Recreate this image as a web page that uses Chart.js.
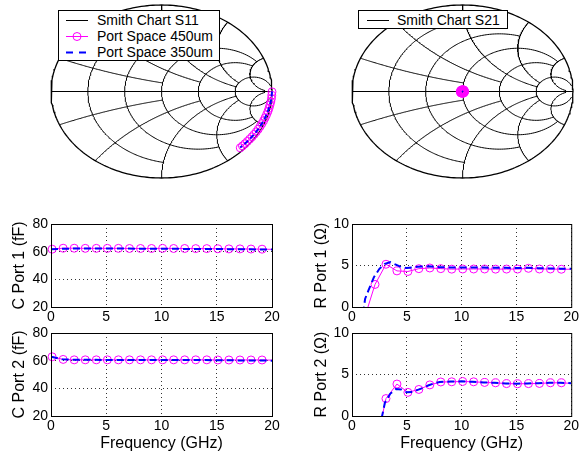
<!DOCTYPE html>
<html>
<head>
<meta charset="utf-8">
<script src="https://cdn.jsdelivr.net/npm/chart.js@4.4.0/dist/chart.umd.min.js"></script>
<style>
body { margin: 0; background: #fff; font-family: "Liberation Sans", Arial, sans-serif; }
#wrap { position: relative; width: 581px; height: 456px; overflow: hidden; }
canvas { position: absolute; }
.lg { position: absolute; background: #fff; border: 1px solid #000; font-size: 14px; color: #000; z-index: 5; }
.lg .row { position: absolute; left: 0; height: 16px; line-height: 16px; white-space: nowrap; }
.lg svg { position: absolute; top: 0; }
.lg span { position: absolute; top: 0; }
</style>
</head>
<body>
<div id="wrap">
  <canvas id="s11" width="245" height="185" style="left:40px;top:0px"></canvas>
  <canvas id="s21" width="240" height="185" style="left:341px;top:0px"></canvas>
  <canvas id="c1" width="290" height="115" style="left:0px;top:210px"></canvas>
  <canvas id="r1" width="291" height="115" style="left:290px;top:210px"></canvas>
  <canvas id="c2" width="290" height="136" style="left:0px;top:320px"></canvas>
  <canvas id="r2" width="291" height="136" style="left:290px;top:320px"></canvas>

  <div class="lg" style="left:58px;top:10px;width:160px;height:49px">
    <div class="row" style="top:1px">
      <svg width="24" height="16" style="left:7px"><line x1="0" y1="8.5" x2="22" y2="8.5" stroke="#000" stroke-width="1"/></svg>
      <span style="left:38px">Smith Chart S11</span>
    </div>
    <div class="row" style="top:17px">
      <svg width="24" height="16" style="left:7px"><line x1="0" y1="8.5" x2="22" y2="8.5" stroke="#ff00ff" stroke-width="1"/><circle cx="11" cy="8.5" r="4" fill="none" stroke="#ff00ff" stroke-width="1"/></svg>
      <span style="left:38px">Port Space 450um</span>
    </div>
    <div class="row" style="top:33px">
      <svg width="24" height="16" style="left:7px"><line x1="0" y1="8.5" x2="22" y2="8.5" stroke="#0000ff" stroke-width="2" stroke-dasharray="7,6"/></svg>
      <span style="left:38px">Port Space 350um</span>
    </div>
  </div>
  <div class="lg" style="left:358px;top:10px;width:148px;height:17px">
    <div class="row" style="top:1px">
      <svg width="24" height="16" style="left:8px"><line x1="0" y1="8.5" x2="22" y2="8.5" stroke="#000" stroke-width="1"/></svg>
      <span style="left:38px">Smith Chart S21</span>
    </div>
  </div>
</div>
<script>
// smith chart grid (resistance / reactance values and where each line stops)
const smithValues = [0.2, 0.5, 1, 2, 5];
const smithEnds = [1, 2, 5, 5, 30];

// S11, reflection coefficient, port space 450um (0.1 .. 19.1 GHz, then 20 GHz)
const s11Re450 = [1.000, 0.998, 0.995, 0.989, 0.981, 0.973, 0.963, 0.951, 0.938, 0.924, 0.909,
                  0.893, 0.876, 0.858, 0.838, 0.819, 0.798, 0.777, 0.756, 0.733, 0.713];
const s11Im450 = [-0.004, -0.043, -0.082, -0.120, -0.157, -0.194, -0.231, -0.267, -0.303, -0.338, -0.371,
                  -0.403, -0.435, -0.466, -0.496, -0.524, -0.551, -0.577, -0.603, -0.629, -0.651];
// S11, port space 350um (0, 2, .. 20 GHz)
const s11Re350 = [1.000, 0.995, 0.982, 0.963, 0.939, 0.910, 0.877, 0.840, 0.800, 0.757, 0.712];
const s11Im350 = [0.000, -0.078, -0.153, -0.227, -0.299, -0.368, -0.432, -0.493, -0.548, -0.600, -0.648];

// S21 sits in the middle of the chart
const s21Re450 = [0.020, 0.016, 0.010, 0.003, -0.005, -0.012, -0.017, -0.020, -0.019, -0.015,
                  -0.008, 0.000, 0.008, 0.014, 0.018, 0.012, 0.004, -0.004, -0.010, 0.005];
const s21Im450 = [0.000, 0.012, 0.019, 0.022, 0.020, 0.015, 0.008, 0.000, -0.008, -0.015,
                  -0.020, -0.022, -0.019, -0.013, -0.005, 0.006, 0.012, 0.008, -0.004, -0.008];
const s21Re350 = [-0.004, 0.000, 0.004];
const s21Im350 = [0.003, 0.000, -0.003];

// frequencies (GHz)
const freqMarks = [0.1, 1.1, 2.1, 3.1, 4.1, 5.1, 6.1, 7.1, 8.1, 9.1, 10.1,
                   11.1, 12.1, 13.1, 14.1, 15.1, 16.1, 17.1, 18.1, 19.1, 20];
const freqDense = [0, 1, 2, 3, 4, 5, 6, 7, 8, 9, 10, 11, 12, 13, 14, 15, 16, 17, 18, 19, 20];

// C port 1 / 2 (fF)
const c1Space450 = [61.8, 62.5, 62.5, 62.4, 62.4, 62.4, 62.4, 62.3, 62.3, 62.3, 62.4,
                    62.3, 62.3, 62.2, 62.2, 62.1, 62.0, 62.0, 61.9, 61.8, 61.7];
const c1Space350 = [61.8, 62.1, 62.2, 62.2, 62.2, 62.2, 62.2, 62.2, 62.1, 62.1, 62.1,
                    62.1, 62.0, 62.0, 62.0, 61.9, 61.8, 61.8, 61.7, 61.6, 61.5];
const c2Space450 = [62.8, 60.9, 60.6, 60.6, 60.6, 60.6, 60.6, 60.6, 60.6, 60.6, 60.6,
                    60.6, 60.6, 60.6, 60.6, 60.5, 60.5, 60.5, 60.5, 60.5, 60.4];
const c2Space350 = [62.9, 61.0, 60.7, 60.6, 60.6, 60.5, 60.5, 60.5, 60.5, 60.5, 60.5,
                    60.5, 60.4, 60.4, 60.4, 60.3, 60.3, 60.2, 60.2, 60.1, 60.0];

// R port 1 (ohm)
const r1Freq450 = [1.1, 2.1, 3.1, 4.1, 5.1, 6.1, 7.1, 8.1, 9.1, 10.1,
                   11.1, 12.1, 13.1, 14.1, 15.1, 16.1, 17.1, 18.1, 19.1, 20];
const r1Space450 = [-1.5, 2.72, 5.15, 4.35, 4.28, 4.62, 4.70, 4.62, 4.56, 4.58,
                    4.58, 4.58, 4.56, 4.57, 4.57, 4.66, 4.58, 4.58, 4.55, 4.55];
const r1Freq350 = [1.0, 1.2, 1.5, 2, 2.5, 3, 3.5, 4, 4.5, 5, 5.5, 6, 7, 8, 9, 10,
                   11, 12, 13, 14, 15, 16, 17, 18, 19, 20];
const r1Space350 = [-0.8, 1.0, 2.0, 3.6, 4.6, 5.2, 5.4, 5.1, 4.8, 4.7, 4.75, 4.85, 4.9, 4.8, 4.75, 4.75,
                    4.75, 4.75, 4.72, 4.72, 4.7, 4.72, 4.68, 4.65, 4.62, 4.6];

// R port 2 (ohm)
const r2Freq450 = [2.1, 3.1, 4.1, 5.1, 6.1, 7.1, 8.1, 9.1, 10.1,
                   11.1, 12.1, 13.1, 14.1, 15.1, 16.1, 17.1, 18.1, 19.1, 20];
const r2Space450 = [-4, 2.1, 3.85, 2.85, 3.2, 3.75, 4.1, 4.12, 4.16,
                    4.12, 4.04, 4.0, 3.9, 3.88, 3.9, 3.92, 4.0, 4.0, 3.93];
const r2Freq350 = [2.7, 3.0, 3.5, 4, 4.5, 5, 5.5, 6, 6.5, 7, 7.5, 8, 9, 10,
                   11, 12, 13, 14, 15, 16, 17, 18, 19, 20];
const r2Space350 = [-0.3, 1.6, 2.7, 3.25, 3.2, 2.85, 2.9, 3.15, 3.4, 3.7, 3.95, 4.1, 4.15, 4.18,
                    4.12, 4.05, 4.0, 3.92, 3.9, 3.92, 3.95, 4.0, 4.0, 3.95];

const xTicks = [0, 5, 10, 15, 20];

const MAGENTA = "#ff00ff";
const BLUE = "#0000ff";
const FONT = "'Liberation Sans', Arial, sans-serif";

const zip = (xs, ys) => xs.map((x, i) => ({x: x, y: ys[i]}));

// z -> reflection coefficient
const gamma = (r, x) => {
    const d = (r + 1) * (r + 1) + x * x;
    return {x: (r * r + x * x - 1) / d, y: 2 * x / d};
};

const gridLine = (pts, w) => ({
    data: pts, showLine: true, pointRadius: 0, borderColor: "#000",
    borderWidth: w || 1, clip: false, order: 10
});

const smithGrid = () => {
    const sets = [];
    const outer = [];
    for (let i = 0; i <= 240; i++) {
        const t = i / 240 * 2 * Math.PI;
        outer.push({x: Math.cos(t), y: Math.sin(t)});
    }
    sets.push(gridLine(outer, 1.3));
    sets.push(gridLine([{x: -1, y: 0}, {x: 1, y: 0}]));
    smithValues.forEach((v, k) => {
        const end = Math.atan(smithEnds[k]);
        const circ = [];
        for (let i = 0; i <= 200; i++) {
            const p = -end + 2 * end * i / 200;
            circ.push(gamma(v, Math.tan(p)));
        }
        sets.push(gridLine(circ));
        [1, -1].forEach(sg => {
            const arc = [];
            for (let i = 0; i <= 150; i++) {
                const p = end * i / 150;
                arc.push(gamma(Math.tan(p), sg * v));
            }
            sets.push(gridLine(arc));
        });
    });
    return sets;
};

const hiddenAxis = {display: false, min: -1, max: 1};

const makeSmith = (id, pad, blue, magenta) => {
    new Chart(document.getElementById(id), {
        type: "scatter",
        data: {
            datasets: [{
                data: blue, showLine: true, pointRadius: 0, borderColor: BLUE,
                borderWidth: 2, borderDash: [5, 3], clip: false, order: 0
            }, {
                data: magenta, showLine: true, borderColor: MAGENTA, borderWidth: 1,
                pointRadius: 4, pointBorderColor: MAGENTA, pointBackgroundColor: "rgba(0,0,0,0)",
                pointBorderWidth: 1, clip: false, order: 1
            }].concat(smithGrid())
        },
        options: {
            responsive: false, animation: false, devicePixelRatio: 1,
            layout: {padding: pad},
            scales: {x: hiddenAxis, y: hiddenAxis},
            plugins: {legend: {display: false}, tooltip: {enabled: false}}
        }
    });
};

makeSmith("s11", {left: 11, right: 13, top: 4, bottom: 7},
    zip(s11Re350, s11Im350), zip(s11Re450, s11Im450));
makeSmith("s21", {left: 11, right: 8, top: 4, bottom: 7},
    zip(s21Re350, s21Im350), zip(s21Re450, s21Im450));

const boxPlugin = {
    id: "box",
    afterDatasetsDraw(chart) {
        const {ctx, chartArea: a} = chart;
        ctx.save();
        ctx.strokeStyle = "#000";
        ctx.lineWidth = 1;
        ctx.strokeRect(a.left + 0.5, a.top + 0.5, a.right - a.left, a.bottom - a.top);
        ctx.restore();
    }
};

const makeLine = (id, cfg) => {
    const lastIdx = cfg.magenta.length - 1;
    new Chart(document.getElementById(id), {
        type: "scatter",
        data: {
            datasets: [{
                data: cfg.blue, showLine: true, pointRadius: 0, borderColor: BLUE,
                borderWidth: 2, borderDash: [7, 4], order: 0
            }, {
                data: cfg.magenta, showLine: true, borderColor: MAGENTA, borderWidth: 1,
                pointRadius: cfg.magenta.map((p, i) => i === lastIdx ? 0 : 4),
                pointBorderColor: MAGENTA, pointBackgroundColor: "rgba(0,0,0,0)",
                pointBorderWidth: 1, clip: {left: 6, right: 6, top: 0, bottom: 0}, order: 1
            }]
        },
        options: {
            responsive: false, animation: false, devicePixelRatio: 1,
            layout: {padding: {left: 0, right: cfg.padRight, top: cfg.padTop, bottom: 0}},
            scales: {
                x: {
                    type: "linear", min: 0, max: 20,
                    afterBuildTicks: s => { s.ticks = xTicks.map(v => ({value: v})); },
                    afterFit: s => { s.height = cfg.xHeight; },
                    grid: {color: "#333", drawTicks: false},
                    border: {display: false, dash: [1, 3]},
                    ticks: {color: "#000", padding: 2, font: {family: FONT, size: 14}, maxRotation: 0},
                    title: {display: !!cfg.xTitle, text: cfg.xTitle || "", color: "#000",
                            padding: {top: 0, bottom: 3}, font: {family: FONT, size: 16}}
                },
                y: {
                    type: "linear", min: cfg.yMin, max: cfg.yMax,
                    afterBuildTicks: s => { s.ticks = cfg.yTicks.map(v => ({value: v})); },
                    afterFit: s => { s.width = cfg.yWidth; },
                    grid: {color: "#333", drawTicks: false},
                    border: {display: false, dash: [1, 3]},
                    ticks: {color: "#000", padding: 3, font: {family: FONT, size: 14}},
                    title: {display: true, text: cfg.yTitle, color: "#000",
                            padding: {top: cfg.yTitlePad, bottom: 0}, font: {family: FONT, size: 16}}
                }
            },
            plugins: {legend: {display: false}, tooltip: {enabled: false}}
        },
        plugins: [boxPlugin]
    });
};

makeLine("c1", {
    blue: zip(freqDense, c1Space350), magenta: zip(freqMarks, c1Space450),
    yMin: 20, yMax: 80, yTicks: [20, 40, 60, 80], yTitle: "C Port 1 (fF)",
    padRight: 18, padTop: 14, xHeight: 18, yWidth: 51, yTitlePad: 10
});
makeLine("c2", {
    blue: zip(freqDense, c2Space350), magenta: zip(freqMarks, c2Space450),
    yMin: 20, yMax: 80, yTicks: [20, 40, 60, 80], yTitle: "C Port 2 (fF)",
    xTitle: "Frequency (GHz)",
    padRight: 18, padTop: 13, xHeight: 40, yWidth: 51, yTitlePad: 10
});
makeLine("r1", {
    blue: zip(r1Freq350, r1Space350), magenta: zip(r1Freq450, r1Space450),
    yMin: 0, yMax: 10, yTicks: [0, 5, 10], yTitle: "R Port 1 (Ω)",
    padRight: 8, padTop: 14, xHeight: 18, yWidth: 62, yTitlePad: 22
});
makeLine("r2", {
    blue: zip(r2Freq350, r2Space350), magenta: zip(r2Freq450, r2Space450),
    yMin: 0, yMax: 10, yTicks: [0, 5, 10], yTitle: "R Port 2 (Ω)",
    xTitle: "Frequency (GHz)",
    padRight: 8, padTop: 13, xHeight: 40, yWidth: 62, yTitlePad: 22
});
</script>
</body>
</html>
